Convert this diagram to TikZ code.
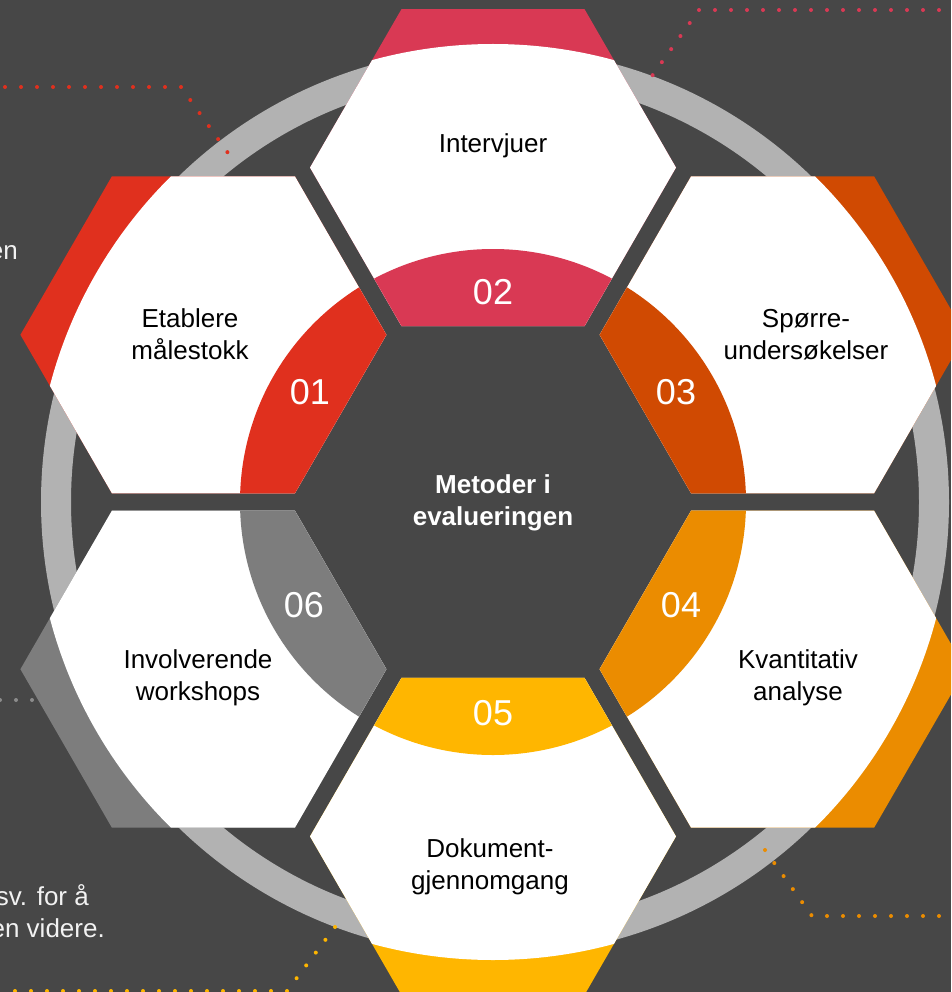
\documentclass[tikz,border=0pt]{standalone}
\usepackage{fontspec}
\setmainfont{Liberation Sans}
\usetikzlibrary{calc}

\definecolor{bggray}{HTML}{474747}
\definecolor{ringgray}{HTML}{B2B2B2}
\definecolor{cone}{HTML}{E0301E}
\definecolor{ctwo}{HTML}{D93954}
\definecolor{cthree}{HTML}{D04A02}
\definecolor{cfour}{HTML}{EB8C00}
\definecolor{cfive}{HTML}{FFB600}
\definecolor{csix}{HTML}{7D7D7D}
\definecolor{dotgray}{HTML}{8C8C8C}

\tikzset{
  hexlabel/.style={align=center, text=black, font=\fontsize{26}{32}\selectfont},
  numlabel/.style={text=white, font=\fontsize{36}{36}\selectfont},
  sidetext/.style={text=white!95!black, font=\fontsize{26}{32}\selectfont},
  dotline/.style={line width=4, line cap=round, dash pattern=on 0pt off 16pt},
}

\begin{document}
\begin{tikzpicture}[x=1pt, y=-1pt]
  \useasboundingbox (0,0) rectangle (951,992);
  \clip (0,0) rectangle (951,992);
  \fill[bggray] (0,0) rectangle (951,992);
  \coordinate (C) at (493,502);
  \coordinate (ringC) at (495,502);

  \draw[ringgray, line width=30] (ringC) circle (439);

  % dotted leader lines
  \draw[dotline, cone]   (5,87) -- (181,87) -- (228,153);
  \draw[dotline, ctwo]   (955,10) -- (699,10) -- (652,76);
  \draw[dotline, cfour]  (765,850) -- (812,916) -- (956,916);
  \draw[dotline, cfive]  (335,927) -- (287,991) -- (-1,991);
  \draw[dotline, dotgray] (0,700) -- (48,700);

  % six hexagons round the middle
  \foreach \cx/\cy/\col in {203.4/334.8/cone, 493/167.6/ctwo, 782.6/334.8/cthree,
                            782.6/669.2/cfour, 493/836.4/cfive, 203.4/669.2/csix}{
    \begin{scope}[shift={(\cx,\cy)}]
      \clip (183,0) -- (91.5,158.5) -- (-91.5,158.5) -- (-183,0)
            -- (-91.5,-158.5) -- (91.5,-158.5) -- cycle;
      \fill[\col] (-190,-190) rectangle (190,190);
      \fill[white] (C) circle (458);
      \fill[\col] (C) circle (253);
    \end{scope}
  }

  \node[hexlabel] (intervjuer) at (493,146) {Intervjuer};
  \node[hexlabel] (etablere)   at (190,334) {Etablere\\målestokk};
  \node[hexlabel] (sporre)     at (806,335) {Spørre-\\undersøkelser};
  \node[hexlabel] (kvant)      at (798,678) {Kvantitativ\\analyse};
  \node[hexlabel] (dokument)   at (490,867) {Dokument-\\gjennomgang};
  \node[hexlabel] (involv)     at (198,678) {Involverende\\workshops};

  \node[numlabel] (n01) at (310,392) {01};
  \node[numlabel] (n02) at (493,292) {02};
  \node[numlabel] (n03) at (676,392) {03};
  \node[numlabel] (n04) at (681,605) {04};
  \node[numlabel] (n05) at (493,713) {05};
  \node[numlabel] (n06) at (304,605) {06};

  \node[align=center, text=white, font=\fontsize{26}{32}\selectfont\bfseries]
    (metoder) at (493,503) {Metoder i\\evalueringen};

  % text cut off at the left edge
  \node[sidetext, anchor=base east, inner sep=0] (tail1) at (18,259) {en};
  \node[sidetext, anchor=base east, inner sep=0] (tail2) at (89,905) {sv. for å};
  \node[sidetext, anchor=base east, inner sep=0] (tail3) at (105,937) {en videre.};
\end{tikzpicture}
\end{document}
